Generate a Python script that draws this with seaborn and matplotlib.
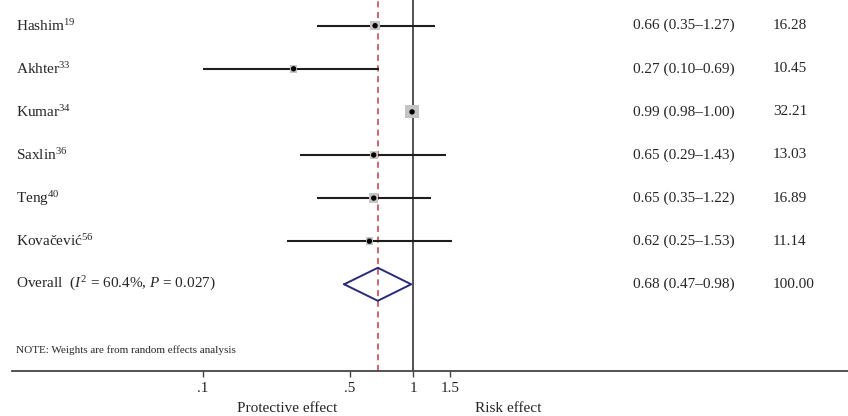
import numpy as np
import pandas as pd
import matplotlib
matplotlib.use("Agg")
import matplotlib.pyplot as plt
import matplotlib.transforms as mtransforms
import seaborn as sns

# ---- data ----
studies = ["Hashim$^{19}$", "Akhter$^{33}$", "Kumar$^{34}$", "Saxlin$^{36}$",
           "Teng$^{40}$", "Kovačević$^{56}$"]
est = [0.66, 0.27, 0.99, 0.65, 0.65, 0.62]
lo = [0.35, 0.10, 0.98, 0.29, 0.35, 0.25]
hi = [1.27, 0.69, 1.00, 1.43, 1.22, 1.53]
weights = [16.28, 10.45, 32.21, 13.03, 16.89, 11.14]
overall_label = "Overall  ($I^2$ = 60.4%, $P$ = 0.027)"
overall_est, overall_lo, overall_hi, overall_w = 0.68, 0.47, 0.98, 100.00
note = "NOTE: Weights are from random effects analysis"
xticks = [0.1, 0.5, 1, 1.5]
xticklabels = [".1", ".5", "1", "1.5"]

sns.set_theme(style="white")
plt.rcParams["font.family"] = ["Liberation Serif", "DejaVu Serif"]
plt.rcParams["mathtext.fontset"] = "custom"
plt.rcParams["mathtext.rm"] = "Liberation Serif"
plt.rcParams["mathtext.it"] = "Liberation Serif:italic"
plt.rcParams["mathtext.bf"] = "Liberation Serif:bold"

W, H = 848, 416
fig = plt.figure(figsize=(W / 100, H / 100), dpi=100)
ax_left, ax_bottom_px = 12, 370.7
ax = fig.add_axes([ax_left / W, (H - ax_bottom_px) / H, 1 - ax_left / W, ax_bottom_px / H])

df = pd.DataFrame({"study": studies, "est": est, "lo": lo, "hi": hi, "weight": weights})
df["row"] = np.arange(len(df))

ax.set_xscale("log")
x0 = 10 ** ((ax_left - 413) / 210)
x1 = 10 ** ((W - 413) / 210)
ax.set_xlim(x0, x1)
ax.set_ylim(8.005, -0.596)

# reference lines
ax.axvline(1, color="#333333", lw=1.2, zorder=1)
ax.axvline(overall_est, color="#c0404a", lw=1.1, ls=(0, (4, 3)), zorder=1)

# CI lines
ax.hlines(df["row"], df["lo"], df["hi"], color="#1e1e1e", lw=1.5, zorder=2)

# weight boxes
sns.scatterplot(data=df, x="est", y="row", size="weight",
                sizes={w: w * 2.8 for w in weights}, marker="s",
                color="#c4c4c4", edgecolor="none", legend=False, ax=ax, zorder=3)
sns.scatterplot(data=df, x="est", y="row", color="black", s=15,
                edgecolor="none", legend=False, ax=ax, zorder=4)

# overall diamond
orow = len(df)
dh = 0.383
ax.plot([overall_lo, overall_est, overall_hi, overall_est, overall_lo],
        [orow, orow - dh, orow, orow + dh, orow], color="#2b2a78", lw=1.4, zorder=3)

# text columns
trans = mtransforms.blended_transform_factory(ax.transAxes, ax.transData)
fx = lambda px: (px - ax_left) / (W - ax_left)
for i, r in df.iterrows():
    ax.text(fx(16), r["row"], r["study"], transform=trans, va="center", ha="left", fontsize=11)
    ax.text(fx(633), r["row"], f"{r['est']:.2f} ({r['lo']:.2f}–{r['hi']:.2f})",
            transform=trans, va="center", ha="left", fontsize=11)
    ax.text(fx(773), r["row"], f"{r['weight']:.2f}", transform=trans,
            va="center", ha="left", fontsize=11)
ax.text(fx(16), orow, overall_label, transform=trans, va="center", ha="left", fontsize=11)
ax.text(fx(633), orow, f"{overall_est:.2f} ({overall_lo:.2f}–{overall_hi:.2f})",
        transform=trans, va="center", ha="left", fontsize=11)
ax.text(fx(773), orow, f"{overall_w:.2f}", transform=trans, va="center", ha="left", fontsize=11)
ax.text(fx(16), 7.52, note, transform=trans, va="center", ha="left", fontsize=8)

# axis styling
for s in ["top", "right", "left"]:
    ax.spines[s].set_visible(False)
ax.spines["bottom"].set_color("#444444")
ax.spines["bottom"].set_linewidth(1.3)
ax.set_yticks([])
ax.set_xticks(xticks)
ax.set_xticklabels(xticklabels, fontsize=11)
ax.xaxis.set_minor_locator(matplotlib.ticker.NullLocator())
ax.tick_params(axis="x", which="major", direction="out", length=4, width=1.0,
               color="#444444", pad=4, bottom=True)
ax.set_xlabel("")
ax.set_ylabel("")
ax.patch.set_alpha(0)

fig.text(287 / W, 1 - 409 / H, "Protective effect", ha="center", va="center", fontsize=11)
fig.text(508 / W, 1 - 409 / H, "Risk effect", ha="center", va="center", fontsize=11)

fig.savefig("out.png", dpi=100, facecolor="white")
